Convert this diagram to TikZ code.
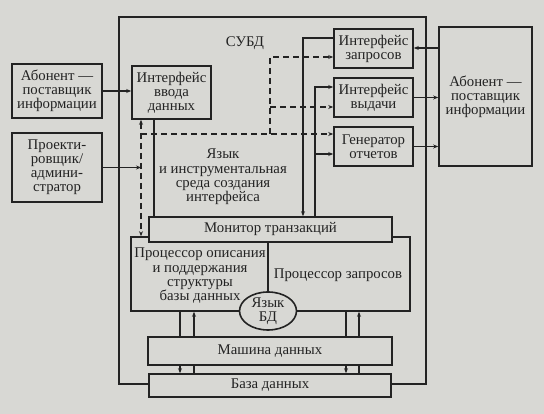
\documentclass[tikz,border=0pt]{standalone}
\usepackage{fontspec}
\setmainfont{Liberation Serif}
\usetikzlibrary{arrows.meta,shapes.geometric}
\definecolor{paper}{RGB}{216,216,212}
\definecolor{ink}{RGB}{35,35,35}
\begin{document}
\begin{tikzpicture}[x=1pt,y=-1pt,
  box/.style={draw=ink, line width=1.6pt, fill=paper, inner sep=0pt, align=center,
    font=\fontsize{14.8}{14}\selectfont, text=ink},
  txt/.style={inner sep=0pt, align=center, font=\fontsize{14.8}{14.3}\selectfont, text=ink},
  conn/.style={draw=ink, line width=1.2pt},
  arr/.style={conn, -{Stealth[length=5pt,width=4pt]}},
  arrb/.style={conn, {Stealth[length=5pt,width=4pt]}-{Stealth[length=5pt,width=4pt]}},
  dsh/.style={dash pattern=on 6pt off 4pt}]
\fill[paper] (0,0) rectangle (544,414);
\useasboundingbox (0,0) rectangle (544,414);
% outer frame
\node[draw=ink, line width=1.4pt, minimum width=307pt, minimum height=367pt, inner sep=0pt] (subd) at (272.5,200.5) {};
\node[txt] (subdl) at (245,43) {СУБД};
% boxes
\node[box, minimum width=90pt, minimum height=54pt] (ab1) at (57,91) {Абонент —\\поставщик\\информации};
\node[box, minimum width=90pt, minimum height=69pt] (proj) at (57,167.5) {Проекти-\\ровщик/\\админи-\\стратор};
\node[box, minimum width=79pt, minimum height=53pt] (vvod) at (171.5,92.5) {Интерфейс\\ввода\\данных};
\node[box, minimum width=79pt, minimum height=39pt] (zapr) at (373.5,48.5) {Интерфейс\\запросов};
\node[box, minimum width=79pt, minimum height=39pt] (vyd) at (373.5,97.5) {Интерфейс\\выдачи};
\node[box, minimum width=79pt, minimum height=39pt] (gen) at (373.5,146.5) {Генератор\\отчетов};
\node[box, minimum width=93pt, minimum height=139pt] (ab2) at (485.5,96.5) {Абонент —\\поставщик\\информации};
\node[txt] (yaz) at (223,177) {Язык\\и инструментальная\\среда создания\\интерфейса};
% processors
\node[box, minimum width=279pt, minimum height=74pt] (proc) at (270.5,274) {};
\coordinate (dv) at (268,0);
\draw[conn, line width=1.4pt] (proc.north -| dv) -- (proc.south -| dv);
\node[box, minimum width=243pt, minimum height=25pt] (mon) at (270.5,229.5) {Монитор транзакций};
\node[txt] (procO) at (200,276) {Процессор описания\\и поддержания\\структуры\\базы данных};
\node[txt] (procZ) at (338,275) {Процессор запросов};
\node[box, ellipse, minimum width=57pt, minimum height=38pt] (yazbd) at (268,311) {Язык\\БД};
\node[box, minimum width=242pt, minimum height=23pt] (db) at (270,385.5) {База данных};
% dashed connectors
\coordinate (d1) at (141,134);
\coordinate (d2) at (270,134);
\coordinate (d3) at (270,57);
\coordinate (d4) at (270,107);
\draw[arrb, dsh] (d1 |- vvod.south) -- (d1 |- proc.north);
\draw[arr, dsh] (d1) -- (d1 -| gen.west);
\draw[arr, dsh] (d2) -- (d3) -- (d3 -| zapr.west);
\draw[arr, dsh] (d4) -- (d4 -| vyd.west);
% solid connectors
\draw[arr] (ab1.east) -- (ab1.east -| vvod.west);
\draw[arr] (proj.east) -- (proj.east -| d1);
\coordinate (s1) at (154,119);
\draw[conn] (s1 |- vvod.south) -- (s1 |- mon.north);
\coordinate (s2) at (303,38);
\draw[arr] (s2 -| zapr.west) -- (s2) -- (s2 |- mon.north);
\coordinate (s3) at (315,87);
\coordinate (s4) at (315,154);
\draw[arr] (s3 |- mon.north) -- (s3) -- (s3 -| vyd.west);
\draw[arr] (s4) -- (s4 -| gen.west);
\coordinate (r1) at (0,48);
\draw[arr] (ab2.west |- r1) -- (zapr.east |- r1);
\draw[arr] (vyd.east) -- (vyd.east -| ab2.west);
\draw[arr] (gen.east) -- (gen.east -| ab2.west);
% processor <-> database
\coordinate (a1) at (180,0);
\coordinate (a2) at (194,0);
\coordinate (a3) at (346,0);
\coordinate (a4) at (359,0);
\draw[arr] (proc.south -| a1) -- (db.north -| a1);
\draw[arr] (db.north -| a2) -- (proc.south -| a2);
\draw[arr] (proc.south -| a3) -- (db.north -| a3);
\draw[arr] (db.north -| a4) -- (proc.south -| a4);
\node[box, minimum width=244pt, minimum height=28pt] (mash) at (270,351) {Машина данных};
\end{tikzpicture}
\end{document}
